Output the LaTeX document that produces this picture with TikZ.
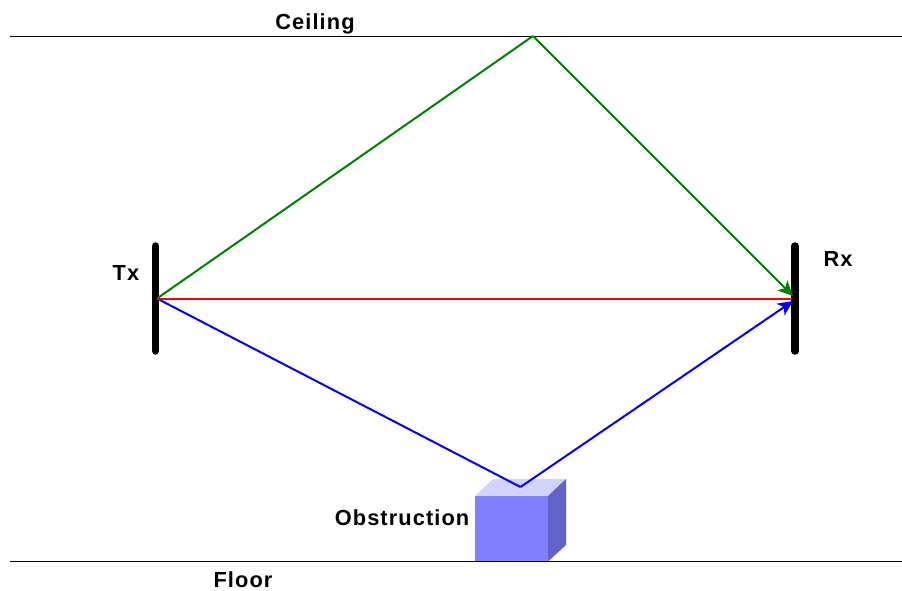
\documentclass[tikz,border=0pt]{standalone}
\usepackage{fontspec}
\setmainfont{Liberation Sans}[LetterSpace=5]
\usetikzlibrary{arrows.meta}
\definecolor{ggreen}{RGB}{0,128,0}
\definecolor{cubefront}{RGB}{128,128,255}
\definecolor{cubetop}{RGB}{210,210,255}
\definecolor{cubeside}{RGB}{98,98,200}
\tikzset{
  x=1pt,y=-1pt,
  lbl/.style={font=\fontsize{21.8pt}{25pt}\selectfont\bfseries,inner sep=0pt,text=black,anchor=base},
  antenna/.style={line width=7.5pt,line cap=round,black},
  wall/.style={line width=1pt,black},
  ray/.style={line width=2pt},
  tip/.style={-{Stealth[length=15pt,width=14pt,inset=4pt]}},
}
\begin{document}
\begin{tikzpicture}
\useasboundingbox (0,0) rectangle (902,590);
\coordinate (cl) at (10,36); \coordinate (cr) at (902,36);
\coordinate (fl) at (10,561.5); \coordinate (fr) at (902,561.5);
\coordinate (tt) at (155.5,246); \coordinate (tb) at (155.5,351);
\coordinate (rt) at (795,246); \coordinate (rb) at (795,351);
\coordinate (tx) at (157,298.5); \coordinate (rx) at (792,298.5);
\coordinate (rxg) at (793,296); \coordinate (rxb) at (793,301);
\coordinate (ceil) at (533,36); \coordinate (obs) at (520.5,487);
% cube
\fill[cubetop] (475,496) -- (493,479) -- (566,479) -- (548,496) -- cycle;
\fill[cubeside] (548,496) -- (566,479) -- (566,545) -- (548,561.5) -- cycle;
\fill[cubefront] (475,496) rectangle (548,561.5);
\draw[wall] (cl) -- (cr);
\draw[wall] (fl) -- (fr);
\draw[antenna] (tt) -- (tb);
\draw[antenna] (rt) -- (rb);
\draw[ray,ggreen] (tx) -- (ceil);
\draw[ray,ggreen,tip] (ceil) -- (rxg);
\draw[ray,blue] (tx) -- (obs);
\draw[ray,blue,tip] (obs) -- (rxb);
\draw[ray,red] (tx) -- (rx);
\node[lbl] (ceiling) at (315,29) {Ceiling};
\node[lbl] (floor) at (243,587) {Floor};
\node[lbl] (txl) at (126,280) {Tx};
\node[lbl] (rxl) at (838,266) {Rx};
\node[lbl] (obl) at (402,525) {Obstruction};
\end{tikzpicture}
\end{document}
